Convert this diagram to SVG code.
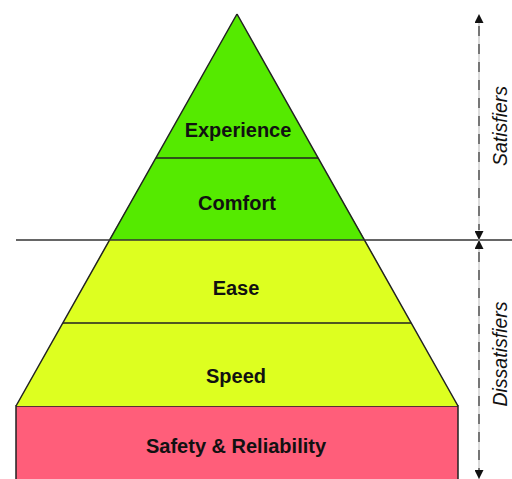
<svg xmlns="http://www.w3.org/2000/svg" width="512" height="479" viewBox="0 0 512 479">
<style>
.lbl{font-family:"Liberation Sans",Arial,sans-serif;font-weight:bold;font-size:20px;fill:#111;text-anchor:middle}
.side{font-family:"Liberation Sans",Arial,sans-serif;font-style:italic;font-size:19.5px;fill:#111;text-anchor:middle}
.edge{stroke:#222;stroke-width:1.5;fill:none}
</style>
<defs>
<marker id="ah" viewBox="0 0 10 10" refX="10" refY="5" markerWidth="9" markerHeight="9" markerUnits="userSpaceOnUse" orient="auto"><path d="M0,0L10,5L0,10z" fill="#111"/></marker>
</defs>
<rect width="512" height="479" fill="#fff"/>
<g id="safety">
<rect x="16" y="406" width="442" height="80" fill="#FF5E7A" stroke="#222" stroke-width="1.5"/>
<text class="lbl" x="236" y="453">Safety &amp; Reliability</text>
</g>
<g id="speed">
<polygon points="63,323 411,323 458,406 16,406" fill="#DDFF20"/>
<text class="lbl" x="236" y="383">Speed</text>
</g>
<g id="ease">
<polygon points="109,240 365,240 411,323 63,323" fill="#DDFF20"/>
<text class="lbl" x="236" y="295">Ease</text>
</g>
<g id="comfort">
<polygon points="156,158 318,158 365,240 109,240" fill="#55EA00"/>
<text class="lbl" x="237" y="210">Comfort</text>
</g>
<g id="experience">
<polygon points="237,14 318,158 156,158" fill="#55EA00"/>
<text class="lbl" x="238" y="137">Experience</text>
</g>
<g id="outlines">
<path class="edge" d="M237,14L458,406M237,14L16,406"/>
<path class="edge" d="M156,158H318M63,323H411"/>
<path d="M16,240H512" stroke="#333" stroke-width="1.5"/>
</g>
<g id="connectors">
<line x1="479" y1="18" x2="479" y2="479" stroke="#cfcfcf" stroke-width="1.5"/>
<line x1="479" y1="26" x2="479" y2="230" stroke="#555" stroke-width="1.5" stroke-dasharray="10,8"/>
<line x1="479" y1="252" x2="479" y2="470" stroke="#555" stroke-width="1.5" stroke-dasharray="10,8"/>
<path d="M479,30V14" stroke="none" fill="none" marker-end="url(#ah)"/>
<path d="M479,220V240" stroke="none" fill="none" marker-end="url(#ah)"/>
<path d="M479,260V240" stroke="none" fill="none" marker-end="url(#ah)"/>
<path d="M479,460V479" stroke="none" fill="none" marker-end="url(#ah)"/>
</g>
<g id="side-labels">
<text class="side" transform="translate(507,126) rotate(-90)">Satisfiers</text>
<text class="side" transform="translate(507,354) rotate(-90)">Dissatisfiers</text>
</g>
</svg>
